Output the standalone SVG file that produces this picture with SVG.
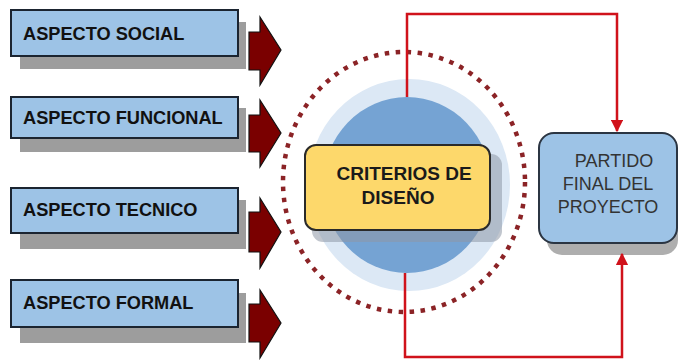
<svg xmlns="http://www.w3.org/2000/svg" width="678" height="360" viewBox="0 0 678 360">
<defs>
<style>
.shadow{fill:#8c8c8c;opacity:0.85}
.abox{fill:#9dc3e6;stroke:#1b2430;stroke-width:2}
.alabel{font-family:"Liberation Sans",Arial,sans-serif;font-weight:bold;font-size:18.2px;fill:#111}
.barrow{fill:#7a0000;stroke:#111;stroke-width:1.2}
.conn{fill:none;stroke:#d0121b;stroke-width:2.5}
.clabel{font-family:"Liberation Sans",Arial,sans-serif;font-weight:bold;font-size:19px;fill:#1a1a1a;text-anchor:middle}
.plabel{font-family:"Liberation Sans",Arial,sans-serif;font-size:18px;fill:#333;text-anchor:middle}
</style>
<marker id="ah" viewBox="0 0 10 10" refX="9" refY="5" markerWidth="5" markerHeight="5" orient="auto" markerUnits="strokeWidth">
<path d="M0,0 L10,5 L0,10 z" fill="#d0121b"/>
</marker>
</defs>
<rect width="678" height="360" fill="#ffffff"/>

<g id="aspecto-social">
<rect class="shadow" x="20" y="22" width="226" height="47"/>
<rect class="abox" x="11" y="10" width="227" height="46"/>
<text class="alabel" x="23" y="40">ASPECTO SOCIAL</text>
</g>
<g id="aspecto-funcional">
<rect class="shadow" x="20" y="108" width="226" height="44"/>
<rect class="abox" x="11" y="97" width="227" height="41"/>
<text class="alabel" x="23" y="124">ASPECTO FUNCIONAL</text>
</g>
<g id="aspecto-tecnico">
<rect class="shadow" x="20" y="200" width="226" height="49"/>
<rect class="abox" x="11" y="188" width="227" height="45"/>
<text class="alabel" x="23" y="216">ASPECTO TECNICO</text>
</g>
<g id="aspecto-formal">
<rect class="shadow" x="20" y="293" width="226" height="50"/>
<rect class="abox" x="11" y="280" width="227" height="47"/>
<text class="alabel" x="23" y="309">ASPECTO FORMAL</text>
</g>

<g id="block-arrows">
<path class="barrow" d="M249,32 L260,32 L260,17 L281,50 L260,85 L260,70 L249,70 z"/>
<path class="barrow" d="M249,115 L260,115 L260,100 L281,133 L260,167 L260,152 L249,152 z"/>
<path class="barrow" d="M249,212 L260,212 L260,198 L281,232 L260,268 L260,252 L249,252 z"/>
<path class="barrow" d="M249,304 L260,304 L260,290 L281,323 L260,358 L260,342 L249,342 z"/>
</g>

<g id="criterios">
<ellipse cx="404" cy="182" rx="121" ry="130" fill="none" stroke="#8b2326" stroke-width="4.5" stroke-dasharray="4.5 6.5"/>
<ellipse cx="409" cy="185" rx="101" ry="106" fill="#dce8f5"/>
<ellipse cx="407" cy="185" rx="84" ry="88" fill="#75a3d3"/>
<rect x="312" y="154" width="190" height="88" rx="11" fill="#8e98a6" opacity="0.55"/>
<rect x="305" y="145" width="185" height="85" rx="11" fill="#fdd86b" stroke="#2a2a2a" stroke-width="2"/>
<text class="clabel" x="404" y="180">CRITERIOS  DE</text>
<text class="clabel" x="398" y="204">DISEÑO</text>
</g>

<g id="partido">
<rect x="547" y="141" width="131" height="114" rx="15" fill="#9a9a9a" opacity="0.8"/>
<rect x="539" y="133" width="138" height="110" rx="15" fill="#9dc3e6" stroke="#2b3542" stroke-width="2"/>
<text class="plabel" x="614" y="167">PARTIDO</text>
<text class="plabel" x="608" y="190">FINAL DEL</text>
<text class="plabel" x="608" y="213">PROYECTO</text>
</g>

<g id="connectors">
<path class="conn" d="M407,97 L407,14 L617,14 L617,131" marker-end="url(#ah)"/>
<path class="conn" d="M405,273 L405,357 L622,357 L622,254" marker-end="url(#ah)"/>
</g>
</svg>
